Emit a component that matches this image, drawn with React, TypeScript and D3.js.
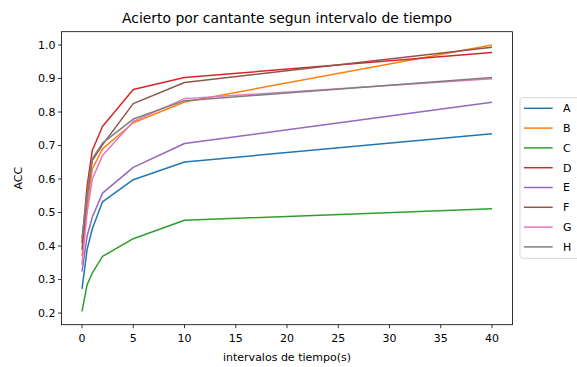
import React from "react";
import * as d3 from "d3";

const xValues = [0, 0.5, 1, 2, 5, 10, 40];
const seriesNames = ["A", "B", "C", "D", "E", "F", "G", "H"];
const A = [0.272, 0.39, 0.451, 0.532, 0.598, 0.651, 0.735];
const B = [0.37, 0.52, 0.63, 0.69, 0.768, 0.83, 1.0];
const C = [0.205, 0.285, 0.319, 0.369, 0.422, 0.477, 0.511];
const D = [0.41, 0.58, 0.685, 0.757, 0.867, 0.903, 0.978];
const E = [0.324, 0.43, 0.486, 0.558, 0.635, 0.706, 0.829];
const F = [0.389, 0.55, 0.655, 0.702, 0.825, 0.888, 0.993];
const G = [0.344, 0.5, 0.6, 0.67, 0.772, 0.84, 0.899];
const H = [0.424, 0.56, 0.66, 0.707, 0.779, 0.834, 0.903];
const seriesValues = [A, B, C, D, E, F, G, H];
const colors = ["#1f77b4", "#ff7f0e", "#2ca02c", "#d62728", "#9467bd", "#8c564b", "#e377c2", "#7f7f7f"];
const xTicks = [0, 5, 10, 15, 20, 25, 30, 35, 40];
const yTicks = [0.2, 0.3, 0.4, 0.5, 0.6, 0.7, 0.8, 0.9, 1.0];
const title = "Acierto por cantante segun intervalo de tiempo";
const xLabel = "intervalos de tiempo(s)";
const yLabel = "ACC";

export default function App() {
  const W = 577, Hh = 367;
  const left = 61.5, right = 512.5, top = 31.7, bottom = 324.7;
  const xMin = d3.min(xValues)!, xMax = d3.max(xValues)!;
  const all = seriesValues.flat();
  const yMin = d3.min(all)!, yMax = d3.max(all)!;
  const xm = (xMax - xMin) * 0.05, ym = (yMax - yMin) * 0.05;
  const x = d3.scaleLinear().domain([xMin - xm, xMax + xm]).range([left, right]);
  const y = d3.scaleLinear().domain([yMin - ym, yMax + ym]).range([bottom, top]);
  const line = d3.line<number>().x((_, i) => x(xValues[i])).y((d) => y(d));
  const font = "DejaVu Sans, sans-serif";
  const legX = 520, legY = 97.7, legRow = 19.8;
  return (
    <div style={{ position: "absolute", left: 0, top: 0 }}>
      <svg width={W} height={Hh} style={{ display: "block", fontFamily: font }}>
        <rect x={0} y={0} width={W} height={Hh} fill="#fff" />
        <text x={(left + right) / 2} y={23} textAnchor="middle" fontSize={13.9} fill="#000">{title}</text>
        <g>
          {seriesValues.map((s, i) => (
            <path key={i} d={line(s)!} fill="none" stroke={colors[i]} strokeWidth={1.5} strokeLinejoin="round" />
          ))}
        </g>
        <rect x={left} y={top} width={right - left} height={bottom - top} fill="none" stroke="#000" strokeWidth={0.8} />
        {xTicks.map((t) => (
          <g key={t} transform={`translate(${x(t)},${bottom})`}>
            <line y1={0} y2={3.5} stroke="#000" strokeWidth={0.8} />
            <text y={17} textAnchor="middle" fontSize={11} fill="#000">{t}</text>
          </g>
        ))}
        {yTicks.map((t) => (
          <g key={t} transform={`translate(${left},${y(t)})`}>
            <line x1={0} x2={-3.5} stroke="#000" strokeWidth={0.8} />
            <text x={-6} dy="0.35em" textAnchor="end" fontSize={11} fill="#000">{t.toFixed(1)}</text>
          </g>
        ))}
        <text x={(left + right) / 2} y={361} textAnchor="middle" fontSize={11} fill="#000">{xLabel}</text>
        <text transform={`translate(22,${(top + bottom) / 2}) rotate(-90)`} textAnchor="middle" fontSize={11} fill="#000">{yLabel}</text>
        <rect x={legX} y={legY} width={70} height={160.6} rx={2.5} fill="#fff" fillOpacity={0.8} stroke="#ccc" strokeWidth={0.8} />
        {seriesNames.map((n, i) => (
          <g key={n} transform={`translate(${legX},${legY + 10.6 + i * legRow})`}>
            <line x1={4} x2={32.7} stroke={colors[i]} strokeWidth={1.5} />
            <text x={43} dy="0.35em" fontSize={11} fill="#000">{n}</text>
          </g>
        ))}
      </svg>
    </div>
  );
}
